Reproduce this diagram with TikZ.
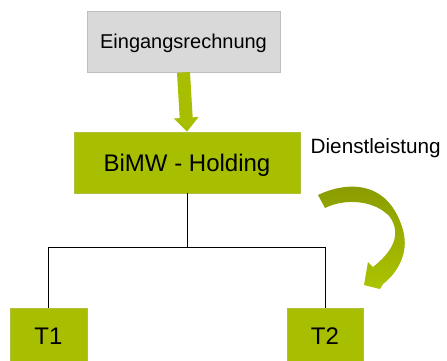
\documentclass[tikz,border=0pt]{standalone}
\usepackage{fontspec}
\setmainfont{Liberation Sans}
\usetikzlibrary{arrows.meta}

\definecolor{leaf}{RGB}{168,190,0}
\definecolor{leafedge}{RGB}{176,192,60}
\definecolor{leafdark}{RGB}{136,152,0}
\definecolor{leaflight}{RGB}{172,196,0}
\definecolor{paper}{RGB}{217,217,217}
\definecolor{paperedge}{RGB}{190,190,190}

\tikzset{
  box/.style={rectangle, inner sep=0pt, text=black},
  greybox/.style={box, fill=paper, draw=paperedge, line width=0.8pt,
    font=\fontsize{20}{24}\selectfont, text height=14.3pt, text depth=0pt},
  greenbox/.style={box, fill=leaf, draw=leafedge, line width=0.6pt,
    font=\fontsize{24}{28}\selectfont, text height=17.2pt, text depth=0pt},
  tree/.style={draw=black, line width=0.9pt},
  flow/.style={draw=leaf, line width=13pt, -{Triangle[width=24pt,length=14pt]}},
  caption/.style={inner sep=0pt, font=\fontsize{20.7}{24}\selectfont}
}

\begin{document}
\begin{tikzpicture}[x=1pt, y=-1pt]
  \clip (0,0) rectangle (447,360);
  \fill[white] (0,0) rectangle (447,360);

  % boxes
  \node[greybox, minimum width=193pt, minimum height=61pt] (invoice) at (183.5,41.5) {Eingangsrechnung};
  \node[greenbox, minimum width=226pt, minimum height=61pt] (holding) at (187,162.5) {BiMW - Holding};
  \node[greenbox, minimum width=77pt, minimum height=56pt] (t1) at (48.5,336) {T1};
  \node[greenbox, minimum width=76pt, minimum height=56pt] (t2) at (325,336) {T2};

  % invoice flows into the holding
  \draw[flow] (invoice.south) -- (holding.north);

  % organisation tree
  \coordinate (fork) at ([yshift=-54pt]holding.south);
  \draw[tree] (holding.south) -- (fork);
  \draw[tree] (fork) -| (t1.north);
  \draw[tree] (fork) -| (t2.north);

  % service label and curved arrow towards T2
  \node[caption, anchor=base west] (service) at (310.5,153) {Dienstleistung};
  \shade[top color=leafdark, bottom color=leaflight]
    (318,195) .. controls (345,182) and (388,178) .. (403,230)
    .. controls (410,255) and (395,275) .. (383,284)
    -- (380,289) -- (364,285) -- (368,262) -- (373,267)
    .. controls (392,252) and (402,235) .. (390,217)
    .. controls (375,200) and (345,198) .. (325,208) -- cycle;
\end{tikzpicture}
\end{document}
